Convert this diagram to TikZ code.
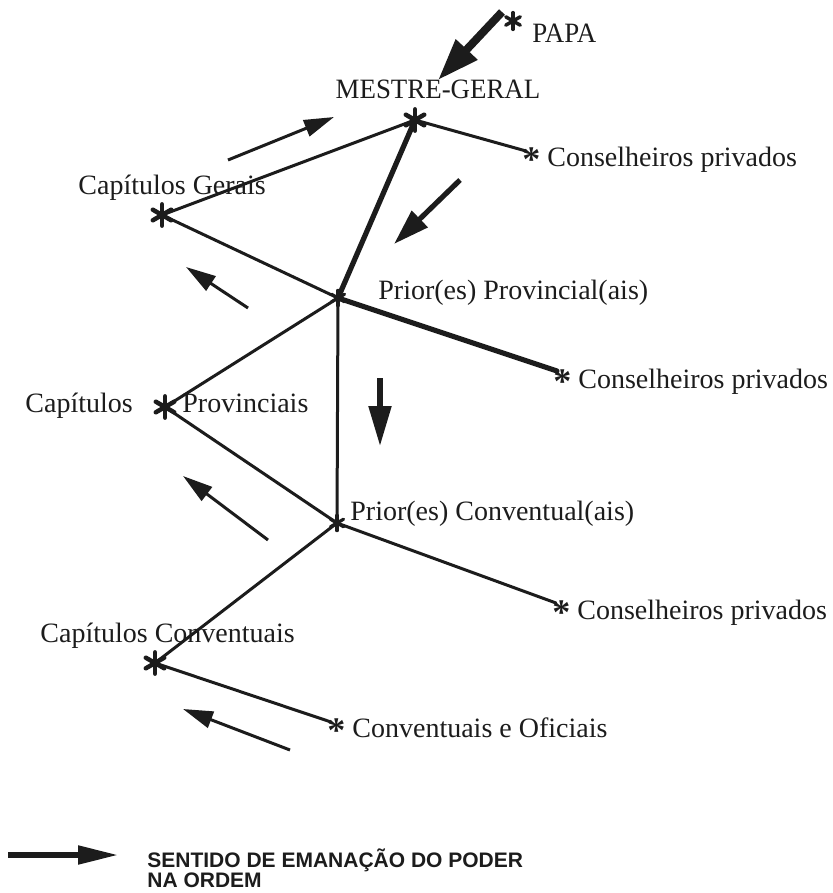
\documentclass[tikz,border=0pt]{standalone}
\usepackage{fontspec}
\setmainfont{Liberation Serif}
\newfontfamily\legendfont{Liberation Sans}
\usetikzlibrary{arrows.meta}
\definecolor{ink}{HTML}{1C1C1C}
\newcommand{\capsnarrow}[1]{\scalebox{0.96}[1]{#1}}
\newcommand{\txtast}{\raisebox{-2.5pt}{\fontsize{18}{18}\selectfont\bfseries *}}

\begin{document}
\begin{tikzpicture}[x=0.5pt,y=-0.5pt,
  lbl/.style={inner sep=0pt,anchor=base west,text=ink,font=\fontsize{14}{16}\selectfont},
  hub/.style={circle,inner sep=0pt,minimum size=#1,
    path picture={\foreach \a in {90,30,150}
      \draw[ink,line width=0.16*#1,line cap=round,
        shift={(path picture bounding box.center)}]
        (\a:-0.38*#1) -- (\a:0.38*#1);}},
  hub/.default=14pt,
  link/.style={ink,line width=1.5pt,line cap=round,line join=round},
  heavy link/.style={ink,line width=2.6pt,line cap=round},
  flow/.style={ink,line width=1.5pt,-{Triangle[length=15pt,width=8.5pt]}},
  heavy flow/.style={ink,line width=2.6pt,-{Triangle[length=18pt,width=11pt]}}]
  \useasboundingbox (0,0) rectangle (833,893);

  % Asterisks
  \node[hub=11pt] (P) at (513,21) {};
  \node[hub] (M) at (415,120) {};
  \node[hub] (CG) at (162,215) {};
  \node[hub=10pt] (PP) at (338,298) {};
  \node[hub] (CP) at (165,407) {};
  \node[hub=10pt] (PC) at (337,523) {};
  \node[hub] (CC) at (155,663) {};
  \coordinate (c1) at (526,151);
  \coordinate (c2) at (557,371);
  \coordinate (c3) at (556,603);
  \coordinate (co) at (331,722);

  % Labels
  \node[lbl] (papa) at (532,43) {\capsnarrow{PAPA}};
  \node[lbl,anchor=base] (MG) at (438,99) {\capsnarrow{MESTRE-GERAL}};
  \node[lbl] (cgt) at (78,195) {Capítulos Gerais};
  \node[lbl] (ppt) at (378,299) {Prior(es) Provincial(ais)};
  \node[lbl] (cpa) at (25,412) {Capítulos};
  \node[lbl] (cpb) at (182,412) {Provinciais};
  \node[lbl] (pct) at (350,520) {Prior(es) Conventual(ais)};
  \node[lbl] (cct) at (40,642) {Capítulos Conventuais};
  \node[lbl] (t1) at (522,167) {\txtast{} Conselheiros privados};
  \node[lbl] (t2) at (553,388) {\txtast{} Conselheiros privados};
  \node[lbl] (t3) at (552,619) {\txtast{} Conselheiros privados};
  \node[lbl] (t4) at (327,737) {\txtast{} Conventuais e Oficiais};

  % Hierarchy
  \draw[link] (M.center) -- (CG.center) -- (PP.center) -- (CP.center)
    -- (PC.center) -- (CC.center) -- (co);
  \draw[link] (M.center) -- (c1);
  \draw[link] (PP.center) -- (PC.center) -- (c3);
  \draw[heavy link] (M.center) -- (PP.center) -- (c2);

  % Direction of power
  \draw[ink,line width=4pt,-{Triangle[length=21pt,width=14pt]}]
    (502,12) -- (MG.north);
  \foreach \xa/\ya/\xb/\yb in {228/160/334/117, 248/308/186/267,
      268/540/183/476, 290/750/183/709}
    \draw[flow] (\xa,\ya) -- (\xb,\yb);
  \draw[heavy flow] (460,180) -- (394,244);
  \draw[ink,line width=2.6pt,-{Triangle[length=20pt,width=11pt]}] (380,378) -- (380,446);

  % Legend
  \draw[ink,line width=2.6pt,-{Triangle[length=20pt,width=9pt]}] (8,855) -- (118,855);
  \node[lbl,font=\legendfont\bfseries\fontsize{10.5}{12}\selectfont] (leg1) at (147,867)
    {SENTIDO DE EMANAÇÃO DO PODER};
  \node[lbl,font=\legendfont\bfseries\fontsize{10.5}{12}\selectfont] (leg2) at (147,887)
    {NA ORDEM};
\end{tikzpicture}
\end{document}
